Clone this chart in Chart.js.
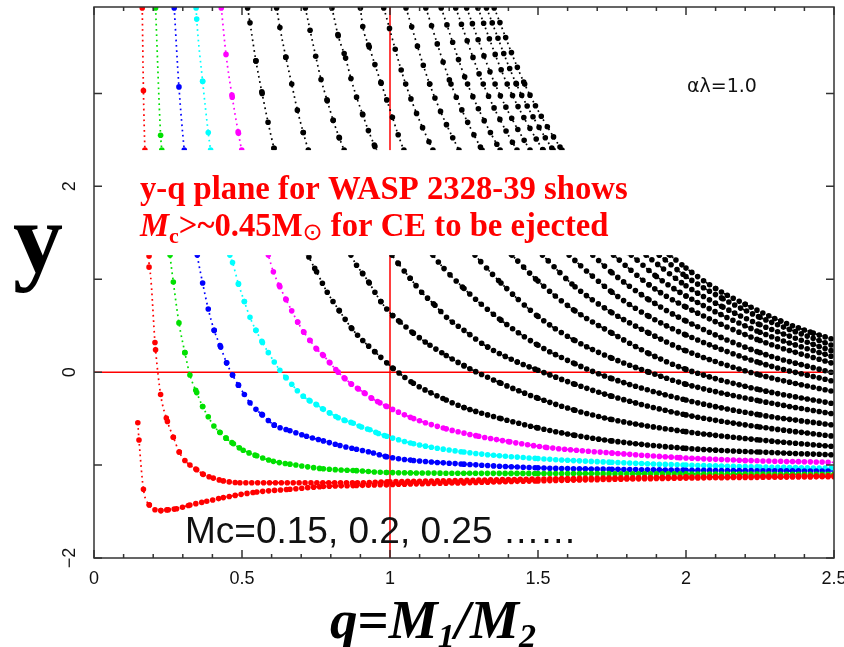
<!DOCTYPE html>
<html>
<head>
<meta charset="utf-8">
<script src="https://cdn.jsdelivr.net/npm/chart.js@4.4.0/dist/chart.umd.min.js"></script>
<style>
  html, body { margin: 0; padding: 0; background: #fff; }
</style>
</head>
<body>
<canvas id="myChart" width="844" height="647"></canvas>
<script>
// curves y(q), one per core mass Mc as [q, y]
const mcLabels = ['0.15', '0.15', '0.2', '0.25', '0.3', '0.35', '0.4', '0.45', '0.5', '0.55',
  '0.6', '0.65', '0.7', '0.75', '0.8', '0.85', '0.9', '0.95', '1.0', '1.05'];

const mc015a = [[0.163,3.92],[0.167,3.03],[0.172,2.39],[0.186,1.25],[0.186,1.13],[0.208,0.24],[0.225,-0.24],
  [0.248,-0.53],[0.268,-0.70],[0.288,-0.86],[0.307,-0.95],[0.324,-1.00],[0.347,-1.05],[0.369,-1.10],
  [0.403,-1.14],[0.437,-1.17],[0.493,-1.19],[0.55,-1.19],[0.66,-1.19],[0.78,-1.19],[0.89,-1.19],
  [1.0,-1.18],[1.25,-1.165],[1.5,-1.15],[2.0,-1.13],[2.5,-1.115]];
const mc015b = [[0.148,-0.545],[0.152,-0.73],[0.167,-1.26],[0.187,-1.43],[0.206,-1.48],[0.226,-1.49],
  [0.251,-1.48],[0.279,-1.47],[0.324,-1.43],[0.381,-1.39],[0.437,-1.35],[0.55,-1.29],[0.662,-1.26],
  [0.775,-1.23],[0.887,-1.22],[0.989,-1.21],[1.25,-1.19],[1.5,-1.17],[2.0,-1.14],[2.5,-1.125]];
const mc020 = [[0.208,3.92],[0.225,2.55],[0.229,2.39],[0.257,1.26],[0.268,0.97],[0.287,0.53],[0.307,0.21],
  [0.324,-0.03],[0.347,-0.22],[0.367,-0.37],[0.386,-0.48],[0.405,-0.58],[0.426,-0.65],[0.446,-0.71],
  [0.471,-0.77],[0.504,-0.84],[0.55,-0.90],[0.606,-0.96],[0.662,-0.99],[0.775,-1.04],[0.887,-1.06],
  [0.989,-1.08],[1.5,-1.09],[2.0,-1.095],[2.5,-1.10]];
const mc025 = [[0.271,3.92],[0.287,3.07],[0.305,2.39],[0.349,1.26],[0.367,0.96],[0.386,0.68],[0.406,0.45],
  [0.428,0.27],[0.448,0.10],[0.468,-0.03],[0.488,-0.14],[0.508,-0.24],[0.527,-0.33],[0.547,-0.40],
  [0.569,-0.46],[0.589,-0.52],[0.609,-0.57],[0.662,-0.63],[0.718,-0.69],[0.775,-0.74],[0.831,-0.79],
  [0.887,-0.83],[0.944,-0.87],[0.989,-0.91],[1.08,-0.95],[1.25,-0.99],[1.5,-1.03],[1.75,-1.045],
  [2.0,-1.055],[2.5,-1.065]];
const mc030 = [[0.345,3.92],[0.347,3.80],[0.367,3.13],[0.386,2.58],[0.394,2.39],[0.459,1.26],[0.468,1.18],
  [0.488,0.95],[0.508,0.76],[0.527,0.59],[0.547,0.45],[0.569,0.32],[0.589,0.21],[0.609,0.11],
  [0.628,0.02],[0.649,-0.06],[0.668,-0.13],[0.687,-0.20],[0.707,-0.26],[0.73,-0.31],[0.752,-0.35],
  [0.775,-0.40],[0.797,-0.44],[0.825,-0.49],[0.848,-0.52],[0.876,-0.55],[0.904,-0.59],[0.932,-0.62],
  [0.961,-0.66],[0.989,-0.69],[1.08,-0.77],[1.25,-0.86],[1.5,-0.93],[1.75,-0.97],[2.0,-1.0],
  [2.25,-1.02],[2.5,-1.035]];
const mc035 = [[0.43,3.92],[0.446,3.42],[0.467,2.96],[0.488,2.57],[0.499,2.39],[0.589,1.26],[0.606,1.08],
  [0.628,0.92],[0.649,0.78],[0.668,0.66],[0.688,0.54],[0.709,0.43],[0.730,0.34],[0.752,0.25],
  [0.775,0.18],[0.797,0.10],[0.825,0.0],[0.848,-0.07],[0.870,-0.13],[0.893,-0.18],[0.916,-0.23],
  [0.938,-0.28],[0.966,-0.33],[0.989,-0.37],[1.08,-0.50],[1.19,-0.61],[1.30,-0.69],[1.405,-0.75],
  [1.53,-0.81],[1.75,-0.87],[1.98,-0.92],[2.2,-0.95],[2.5,-0.97]];
const mc040 = [[0.519,3.92],[0.527,3.76],[0.547,3.35],[0.568,3.00],[0.588,2.69],[0.608,2.41],[0.66,1.78],
  [0.726,1.24],[0.752,1.08],[0.788,0.86],[0.829,0.66],[0.871,0.47],[0.908,0.34],[0.949,0.22],
  [0.989,0.10],[1.011,0.04],[1.079,-0.12],[1.19,-0.30],[1.25,-0.38],[1.375,-0.50],[1.5,-0.60],
  [1.625,-0.68],[1.75,-0.74],[2.0,-0.82],[2.25,-0.86],[2.5,-0.89]];
const mc045 = [[0.617,3.92],[0.628,3.71],[0.648,3.39],[0.668,3.10],[0.687,2.82],[0.707,2.58],[0.724,2.39],
  [0.79,1.80],[0.868,1.26],[0.887,1.15],[0.908,1.06],[0.930,0.96],[0.949,0.86],[0.969,0.76],
  [0.989,0.68],[1.009,0.61],[1.034,0.54],[1.079,0.42],[1.135,0.29],[1.19,0.18],[1.25,0.07],
  [1.375,-0.12],[1.5,-0.28],[1.625,-0.41],[1.75,-0.51],[2.0,-0.64],[2.25,-0.73],[2.5,-0.80]];
const mc050 = [[0.714,3.92],[0.730,3.68],[0.749,3.40],[0.767,3.15],[0.788,2.92],[0.808,2.71],[0.829,2.52],
  [0.845,2.39],[0.92,1.80],[1.007,1.26],[1.028,1.17],[1.068,1.01],[1.107,0.86],[1.152,0.72],
  [1.191,0.59],[1.25,0.45],[1.33,0.27],[1.43,0.11],[1.5,0.02],[1.625,-0.13],[1.75,-0.26],
  [2.0,-0.46],[2.25,-0.59],[2.5,-0.69]];
const mc055 = [[0.804,3.92],[0.825,3.62],[0.850,3.38],[0.868,3.16],[0.887,2.96],[0.908,2.77],[0.927,2.60],
  [0.949,2.43],[1.04,1.80],[1.145,1.26],[1.25,0.90],[1.375,0.56],[1.5,0.29],[1.625,0.09],
  [1.75,-0.07],[2.0,-0.30],[2.25,-0.46],[2.5,-0.57]];
const mc060 = [[0.90,3.92],[0.908,3.72],[0.930,3.50],[0.949,3.31],[0.970,3.11],[0.989,2.93],[1.047,2.39],
  [1.15,1.80],[1.287,1.26],[1.375,0.96],[1.5,0.60],[1.625,0.34],[1.75,0.15],[1.875,0.0],
  [2.0,-0.13],[2.25,-0.31],[2.5,-0.45]];
const mc065 = [[0.979,3.92],[1.053,3.10],[1.145,2.39],[1.25,1.80],[1.412,1.26],[1.5,0.98],[1.625,0.66],
  [1.75,0.42],[1.875,0.20],[2.0,0.03],[2.25,-0.19],[2.5,-0.34]];
const mc070 = [[1.054,3.92],[1.134,3.10],[1.233,2.39],[1.345,1.80],[1.515,1.26],[1.625,0.92],[1.75,0.64],
  [1.875,0.42],[2.0,0.23],[2.25,-0.03],[2.5,-0.21]];
const mc075 = [[1.121,3.92],[1.206,3.10],[1.311,2.39],[1.43,1.80],[1.605,1.26],[1.75,0.86],[1.875,0.60],
  [2.0,0.40],[2.25,0.10],[2.5,-0.10]];
const mc080 = [[1.173,3.92],[1.262,3.10],[1.372,2.39],[1.495,1.80],[1.685,1.26],[1.75,1.07],[1.875,0.78],
  [2.0,0.55],[2.25,0.21],[2.5,-0.01]];
const mc085 = [[1.222,3.92],[1.315,3.10],[1.429,2.39],[1.557,1.80],[1.755,1.26],[1.875,0.94],[2.0,0.70],
  [2.25,0.34],[2.5,0.09]];
const mc090 = [[1.259,3.92],[1.355,3.10],[1.473,2.39],[1.605,1.80],[1.815,1.26],[1.9,1.03],[2.0,0.82],
  [2.25,0.43],[2.5,0.16]];
const mc095 = [[1.297,3.92],[1.396,3.10],[1.517,2.39],[1.653,1.80],[1.865,1.26],[2.0,0.93],[2.125,0.70],
  [2.25,0.51],[2.5,0.22]];
const mc100 = [[1.326,3.92],[1.427,3.10],[1.551,2.39],[1.69,1.80],[1.91,1.26],[2.0,1.03],[2.125,0.79],
  [2.25,0.59],[2.5,0.28]];
const mc105 = [[1.352,3.92],[1.455,3.10],[1.581,2.39],[1.723,1.80],[1.946,1.26],[2.0,1.12],[2.1,0.90],
  [2.2,0.73],[2.32,0.55],[2.43,0.42],[2.5,0.35]];

const allCurves = [mc015a, mc015b, mc020, mc025, mc030, mc035, mc040, mc045, mc050, mc055,
  mc060, mc065, mc070, mc075, mc080, mc085, mc090, mc095, mc100, mc105];
const curveColors = ['#ff0000', '#ff0000', '#00e000', '#0000ff', '#00ffff', '#ff00ff'];

const xTickValues = [0, 0.5, 1, 1.5, 2, 2.5];
const yTickValues = [-2, 0, 2];
const yTickText = ['\u22122', '0', '2'];
const boxTop = 2.39, boxBottom = 1.26;   // white label box, in y units

const qStep = 0.02; // spacing of the computed points along q

// beads: one dot per q step, so steep parts get sparse dots
function beadDash(ctx) {
  const xs = ctx.chart.scales.x;
  const step = xs.getPixelForValue(qStep) - xs.getPixelForValue(0);
  const dx = Math.abs(ctx.p1.x - ctx.p0.x);
  const dy = Math.abs(ctx.p1.y - ctx.p0.y);
  const len = Math.hypot(dx, dy);
  const gap = dx > 0.05 ? step * len / dx : 2000;
  return [0, Math.min(gap, 2000)];
}

const datasets = [];
allCurves.forEach((pts, i) => {
  const col = curveColors[i] || '#000000';
  const data = pts.map(p => ({ x: p[0], y: p[1] }));
  datasets.push({
    label: 'Mc=' + mcLabels[i], data: data, borderColor: col,
    borderWidth: 1.7, borderDash: [1.7, 3.6], pointRadius: 0,
    cubicInterpolationMode: 'monotone', fill: false
  });
  datasets.push({
    label: 'Mc=' + mcLabels[i], data: data, borderColor: col,
    borderWidth: 5.6, borderCapStyle: 'round', pointRadius: 0,
    cubicInterpolationMode: 'monotone', fill: false,
    segment: { borderDash: beadDash }
  });
});

function drawParts(ctx, x, y, parts) {
  parts.forEach(p => {
    ctx.font = p.font;
    ctx.fillText(p.t, x, y + (p.dy || 0));
    x += ctx.measureText(p.t).width;
  });
}

const decor = {
  id: 'decor',
  beforeDatasetsDraw(chart) {
    const { ctx, chartArea: a, scales: { x, y } } = chart;
    ctx.save();
    ctx.strokeStyle = '#ff0000';
    ctx.lineWidth = 1.5;
    ctx.beginPath();
    ctx.moveTo(a.left, y.getPixelForValue(0));
    ctx.lineTo(a.right, y.getPixelForValue(0));
    ctx.moveTo(x.getPixelForValue(1), a.top);
    ctx.lineTo(x.getPixelForValue(1), a.bottom);
    ctx.stroke();
    ctx.restore();
  },
  afterDatasetsDraw(chart) {
    const { ctx, chartArea: a, scales: { x, y } } = chart;
    ctx.save();
    // white box behind the red note
    const bt = y.getPixelForValue(boxTop), bb = y.getPixelForValue(boxBottom);
    ctx.fillStyle = '#ffffff';
    ctx.fillRect(a.left + 1, bt, a.right - a.left - 2, bb - bt);

    // frame
    ctx.strokeStyle = '#333333';
    ctx.lineWidth = 1.5;
    ctx.strokeRect(a.left, a.top, a.right - a.left, a.bottom - a.top);

    // inward ticks
    ctx.beginPath();
    for (let k = 0; k <= 25; k++) {
      const px = x.getPixelForValue(k / 10);
      const len = k % 5 === 0 ? 8 : 4;
      ctx.moveTo(px, a.bottom); ctx.lineTo(px, a.bottom - len);
      ctx.moveTo(px, a.top); ctx.lineTo(px, a.top + len);
    }
    for (let v = -2; v <= 3; v++) {
      const py = y.getPixelForValue(v);
      ctx.moveTo(a.left, py); ctx.lineTo(a.left + 8, py);
      ctx.moveTo(a.right, py); ctx.lineTo(a.right - 8, py);
    }
    ctx.stroke();

    // y tick labels, turned
    ctx.fillStyle = '#111111';
    ctx.font = '18px "Liberation Sans", Arial, sans-serif';
    ctx.textAlign = 'center';
    ctx.textBaseline = 'middle';
    yTickValues.forEach((v, i) => {
      ctx.save();
      ctx.translate(70, y.getPixelForValue(v));
      ctx.rotate(-Math.PI / 2);
      ctx.fillText(yTickText[i], 0, 0);
      ctx.restore();
    });

    ctx.textAlign = 'left';
    ctx.textBaseline = 'alphabetic';

    // note in red
    ctx.fillStyle = '#ff0000';
    ctx.font = 'bold 32.7px "Liberation Serif", "Times New Roman", serif';
    ctx.fillText('y-q plane for WASP 2328-39 shows', 140, 199);
    drawParts(ctx, 140, 236, [
      { t: 'M', font: 'italic bold 32.7px "Liberation Serif", serif' },
      { t: 'c', font: 'bold 22px "Liberation Serif", serif', dy: 7 },
      { t: '>~0.45M', font: 'bold 32.7px "Liberation Serif", serif' },
      { t: '\u2299', font: '24px "DejaVu Sans", sans-serif', dy: 4 },
      { t: ' for CE to be ejected', font: 'bold 32.7px "Liberation Serif", serif' }
    ]);

    // alpha lambda
    ctx.fillStyle = '#111111';
    ctx.font = '19px "DejaVu Sans", sans-serif';
    ctx.fillText('\u03b1\u03bb=1.0', 687, 92);

    // Mc list
    ctx.font = '37px "Liberation Sans", Arial, sans-serif';
    ctx.fillText('Mc=0.15, 0.2, 0.25 \u2026\u2026', 185, 543);

    // axis titles
    ctx.fillStyle = '#000000';
    ctx.font = 'bold 100px "Liberation Serif", serif';
    ctx.fillText('y', 13, 272);
    drawParts(ctx, 330, 638, [
      { t: 'q', font: 'italic bold 55px "Liberation Serif", serif' },
      { t: '=', font: 'bold 55px "Liberation Serif", serif' },
      { t: 'M', font: 'italic bold 55px "Liberation Serif", serif' },
      { t: '1', font: 'italic bold 34px "Liberation Serif", serif', dy: 9 },
      { t: '/', font: 'italic bold 55px "Liberation Serif", serif' },
      { t: 'M', font: 'italic bold 55px "Liberation Serif", serif' },
      { t: '2', font: 'italic bold 34px "Liberation Serif", serif', dy: 9 }
    ]);
    ctx.restore();
  }
};

const config = {
  type: 'line',
  data: { datasets },
  options: {
    responsive: false,
    animation: false,
    events: [],
    layout: { autoPadding: false, padding: { left: 0, right: 10, top: 7, bottom: 0 } },
    plugins: { legend: { display: false }, tooltip: { enabled: false } },
    scales: {
      x: {
        type: 'linear', min: 0, max: 2.5,
        afterFit(scale) { scale.height = 89; scale.paddingLeft = 0; scale.paddingRight = 0; },
        afterBuildTicks(scale) { scale.ticks = xTickValues.map(v => ({ value: v })); },
        grid: { display: false, drawTicks: false },
        border: { display: false },
        ticks: {
          autoSkip: false, maxRotation: 0, padding: 10, color: '#111111',
          font: { family: '"Liberation Sans", Arial, sans-serif', size: 18 },
          callback: v => String(v)
        }
      },
      y: {
        type: 'linear', min: -2, max: 3.93,
        afterFit(scale) { scale.width = 94; scale.paddingTop = 0; scale.paddingBottom = 0; },
        grid: { display: false, drawTicks: false },
        border: { display: false },
        ticks: { display: false }
      }
    }
  },
  plugins: [decor]
};

var myChart = new Chart(document.getElementById('myChart'), config);
</script>
</body>
</html>
